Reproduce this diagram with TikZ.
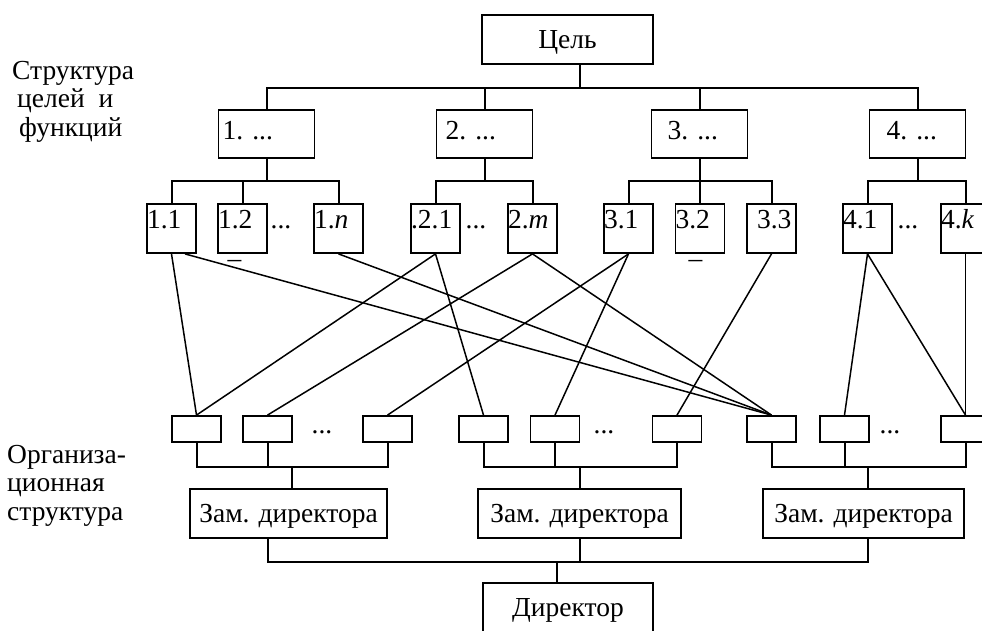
\documentclass[tikz,border=0pt]{standalone}
\usepackage{fontspec}
\setmainfont{Liberation Serif}
\usepackage{tikz}
\newcommand{\zam}{Зам. директора}
\tikzset{
  headbox/.style={draw, line width=1.8pt, inner sep=0pt,
    minimum height=49pt, text height=24pt, text depth=6pt},
  funcbox/.style={draw, line width=1.8pt, inner sep=0pt, text width=96pt,
    align=left, text height=30pt, text depth=18pt},
  subbox/.style={draw, line width=1.8pt, inner sep=0pt, text width=49pt,
    align=left, text height=24.5pt, text depth=24.5pt},
  orgbox/.style={draw, line width=1.8pt, inner sep=0pt,
    minimum width=49pt, minimum height=26pt},
  bus/.style={line width=2pt},
  link/.style={line width=1.5pt}
}

\begin{document}
\begin{tikzpicture}[x=1pt, y=-1pt, font=\fontsize{27.5}{28.5}\selectfont]
  \useasboundingbox (0,0) rectangle (982,631);
  \node [align=left, anchor=north west, inner sep=0pt] (sl) at (12,61)
    {Структура\\\hspace*{5pt}целей\ \ и\\\hspace*{7pt}функций};
  \node [align=left, anchor=north west, inner sep=0pt] (ol) at (7,445)
    {Организа-\\ционная\\структура};
  \node [headbox, minimum width=171pt] (g) at (567.5,39.5)
    {Цель};
  \node [funcbox] (1) at (266.5,134)
    {\hspace*{4pt}1.\ ...};
  \node [funcbox] (2) at (484.5,134)
    {\hspace*{9pt}2.\ ...};
  \node [funcbox] (3) at (699.5,134)
    {\hspace*{16pt}3.\ ...};
  \node [funcbox] (4) at (917.5,134)
    {\hspace*{17pt}4.\ ...};
  \node [subbox] (11) at (171.5,228.5)
    {1.1};
  \node [subbox] (12) at (242.5,228.5)
    {1.2};
  \node [subbox] (1n) at (338.5,228.5)
    {1.\textit{n}};
  \node [subbox] (21) at (435.5,228.5)
    {.2.1};
  \node [subbox] (2m) at (532.5,228.5)
    {2.\textit{m}};
  \node [subbox] (31) at (628.5,228.5)
    {3.1};
  \node [subbox] (32) at (700,228.5)
    {3.2};
  \node [subbox] (33) at (771.5,228.5)
    {\hspace*{10pt}3.3};
  \node [subbox] (41) at (867.5,228.5)
    {4.1};
  \node [subbox] (4k) at (965.5,228.5)
    {4.\textit{k}};
  \node [anchor=base] (e1) at (281,228) {...};
  \node [anchor=base] (e2) at (476,228) {...};
  \node [anchor=base] (e3) at (908,228) {...};
  \node [inner sep=0pt] (u1) at (234.5,264) {–};
  \node [inner sep=0pt] (u2) at (695.5,264) {–};
  \node [orgbox] (o1) at (196.5,429) {};
  \node [orgbox] (o2) at (267.5,429) {};
  \node [orgbox] (o3) at (387.5,429) {};
  \node [orgbox] (o4) at (483.5,429) {};
  \node [orgbox] (o5) at (555,429) {};
  \node [orgbox] (o6) at (677,429) {};
  \node [orgbox] (o7) at (771.5,429) {};
  \node [orgbox] (o8) at (844.5,429) {};
  \node [orgbox] (o9) at (965.5,429) {};
  \node [anchor=base] (e4) at (322,433) {...};
  \node [anchor=base] (e5) at (604,433) {...};
  \node [anchor=base] (e6) at (890,433) {...};
  \node [headbox, minimum width=197pt] (z1) at (288.5,513.5)
    {\zam};
  \node [headbox, minimum width=203pt] (z2) at (579.5,513.5)
    {\zam};
  \node [headbox, minimum width=201pt] (z3) at (863.5,513.5)
    {\zam};
  \node [headbox, minimum width=170pt] (d) at (568,607.5)
    {Директор};
  \draw [bus] ([xshift=12.5]g.south) -- ++(0,23) -| (1.north);
  \draw [bus] ([xshift=12.5]g.south) -- ++(0,23) -| (2.north);
  \draw [bus] ([xshift=12.5]g.south) -- ++(0,23) -| (3.north);
  \draw [bus] ([xshift=12.5]g.south) -- ++(0,23) -| (4.north);
  \draw [bus] (1.south) -- ++(0,22) -| (11.north);
  \draw [bus] (1.south) -- ++(0,22) -| (12.north);
  \draw [bus] (1.south) -- ++(0,22) -| (1n.north);
  \draw [bus] (2.south) -- ++(0,22) -| (21.north);
  \draw [bus] (2.south) -- ++(0,22) -| (2m.north);
  \draw [bus] (3.south) -- ++(0,22) -| (31.north);
  \draw [bus] (3.south) -- ++(0,22) -| (32.north);
  \draw [bus] (3.south) -- ++(0,22) -| (33.north);
  \draw [bus] (4.south) -- ++(0,22) -| (41.north);
  \draw [bus] (4.south) -- ++(0,22) -| (4k.north);
  \draw [link] (11.south) -- (o1.north);
  \draw [link] ([xshift=13.5]11.south) -- (o7.north);
  \draw [link] (1n.south) -- (o7.north);
  \draw [link] (21.south) -- (o1.north);
  \draw [link] (21.south) -- (o4.north);
  \draw [link] (2m.south) -- (o2.north);
  \draw [link] (2m.south) -- (o7.north);
  \draw [link] (31.south) -- (o3.north);
  \draw [link] (31.south) -- (o5.north);
  \draw [link] (33.south) -- (o6.north);
  \draw [link] (41.south) -- (o8.north);
  \draw [link] (41.south) -- (o9.north);
  \draw [link] (4k.south) -- (o9.north);
  \draw [bus] (o1.south) -- ++(0,24) -| ([xshift=3.5]z1.north);
  \draw [bus] (o2.south) -- ++(0,24) -| ([xshift=3.5]z1.north);
  \draw [bus] (o3.south) -- ++(0,24) -| ([xshift=3.5]z1.north);
  \draw [bus] (o4.south) -- ++(0,24) -| (z2.north);
  \draw [bus] (o5.south) -- ++(0,24) -| (z2.north);
  \draw [bus] (o6.south) -- ++(0,24) -| (z2.north);
  \draw [bus] (o7.south) -- ++(0,24) -| ([xshift=4.5]z3.north);
  \draw [bus] (o8.south) -- ++(0,24) -| ([xshift=4.5]z3.north);
  \draw [bus] (o9.south) -- ++(0,24) -| ([xshift=4.5]z3.north);
  \draw [bus] ([xshift=-20.5]z1.south) -- ++(0,23) -| ([xshift=-11]d.north);
  \draw [bus] (z2.south) -- ++(0,23) -| ([xshift=-11]d.north);
  \draw [bus] ([xshift=4.5]z3.south) -- ++(0,23) -| ([xshift=-11]d.north);
\end{tikzpicture}
\end{document}
